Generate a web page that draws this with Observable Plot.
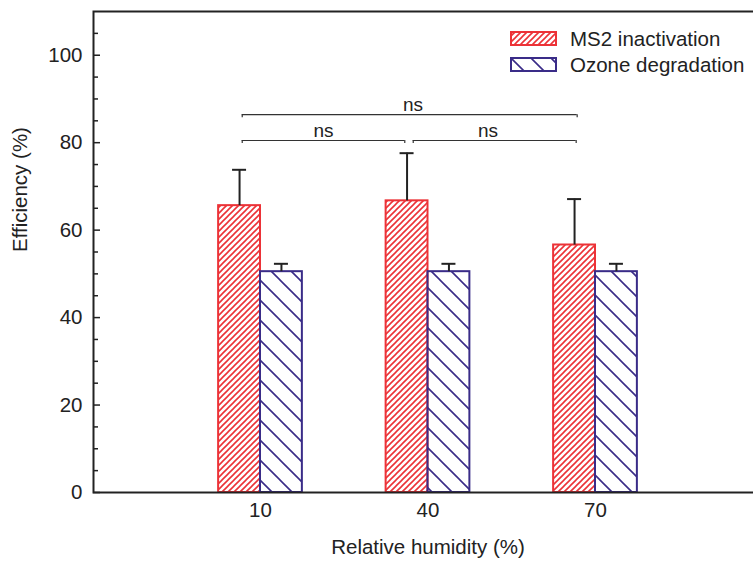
<!DOCTYPE html>
<html><head><meta charset="utf-8">
<script src="https://cdn.jsdelivr.net/npm/d3@7"></script>
<script src="https://cdn.jsdelivr.net/npm/@observablehq/plot@0.6"></script>
<style>
html,body{margin:0;padding:0;background:#fff;overflow:hidden}
#wrap{position:relative;width:753px;height:569px;font-family:"Liberation Sans",Arial,sans-serif}
.legend{position:absolute;left:510px;top:25.5px;font-size:20.5px;color:#222;line-height:26px}
.legend .row{display:flex;align-items:center;height:26px;white-space:nowrap}
.legend svg{margin-right:13px;display:block}
</style></head><body>
<svg width="0" height="0" style="position:absolute">
  <defs>
    <pattern id="hatch-red" patternUnits="userSpaceOnUse" width="6" height="6">
      <path d="M-1,1 L1,-1 M0,6 L6,0 M5,7 L7,5" stroke="#ec3237" stroke-width="1.6"/>
    </pattern>
    <pattern id="hatch-blue" patternUnits="userSpaceOnUse" width="20" height="20">
      <path d="M-2,18 L2,22 M0,0 L20,20 M18,-2 L22,2" stroke="#3a2c88" stroke-width="1.6"/>
    </pattern>
  </defs>
</svg>
<div id="wrap"></div>
<script>
// ---- data ----
const humidity = ["10", "40", "70"];
const ms2Efficiency = [65.6, 66.7, 56.6];
const ms2Error = [8.2, 10.9, 10.5];
const ozoneEfficiency = [50.5, 50.5, 50.5];
const ozoneError = [1.8, 1.8, 1.8];
const seriesNames = ["MS2 inactivation", "Ozone degradation"];
const yTicks = [0, 20, 40, 60, 80, 100];
const yMinorTicks = [5, 10, 15, 25, 30, 35, 45, 50, 55, 65, 70, 75, 85, 90, 95, 105].filter(v => v % 20 !== 0);
const bracketFrom = ["10", "40", "10"];
const bracketTo = ["40", "70", "70"];
const bracketLevel = [80.5, 80.5, 86.4];
const bracketLabel = ["ns", "ns", "ns"];
const xTitle = "Relative humidity (%)";
const yTitle = "Efficiency (%)";

// ---- styles ----
const RED = "#ec3237", BLUE = "#3a2c88", INK = "#222";
const FS = 20.5;
const bw = 83.75, half = bw / 2, q = bw / 4;

const rows = humidity.map((h, i) => ({
  rh: h, ms2: ms2Efficiency[i], ms2Err: ms2Error[i], oz: ozoneEfficiency[i], ozErr: ozoneError[i]
}));

function bracket(i, L, R, labelBand, labelDx) {
  const b = [{from: bracketFrom[i], to: bracketTo[i], y: bracketLevel[i], label: bracketLabel[i], lb: labelBand}];
  const st = {stroke: "#333", strokeWidth: 1.2};
  return [
    Plot.ruleY(b, {x1: "from", x2: "to", y: "y", insetLeft: L, insetRight: R, ...st}),
    Plot.ruleX(b, {x: "from", y1: "y", y2: d => d.y - 0.7, dx: L - half, ...st}),
    Plot.ruleX(b, {x: "to", y1: "y", y2: d => d.y - 0.7, dx: half - R, ...st}),
    Plot.text(b, {x: "lb", y: "y", text: "label", dx: labelDx, dy: -10, fontSize: 19, fill: INK})
  ];
}

const chart = Plot.plot({
  width: 753, height: 569,
  marginLeft: 93, marginRight: 0, marginTop: 11, marginBottom: 77,
  style: {fontFamily: "'Liberation Sans', Arial, sans-serif", fontSize: FS + "px", color: INK, background: "#fff", overflow: "visible"},
  x: {type: "band", domain: humidity, paddingInner: 0.5, paddingOuter: 0.747, insetRight: -9, round: false, axis: null},
  y: {domain: [0, 110], axis: null},
  marks: [
    Plot.barY(rows, {x: "rh", y: "ms2", fill: "url(#hatch-red)", stroke: RED, strokeWidth: 2, insetRight: half}),
    Plot.barY(rows, {x: "rh", y: "oz", fill: "url(#hatch-blue)", stroke: BLUE, strokeWidth: 2, insetLeft: half}),
    Plot.ruleX(rows, {x: "rh", y1: "ms2", y2: d => d.ms2 + d.ms2Err, dx: -q, stroke: INK, strokeWidth: 2}),
    Plot.tickY(rows, {x: "rh", y: d => d.ms2 + d.ms2Err, insetLeft: q - 7, insetRight: bw - q - 7, stroke: INK, strokeWidth: 2}),
    Plot.ruleX(rows, {x: "rh", y1: "oz", y2: d => d.oz + d.ozErr, dx: q, stroke: INK, strokeWidth: 2}),
    Plot.tickY(rows, {x: "rh", y: d => d.oz + d.ozErr, insetLeft: bw - q - 7, insetRight: q - 7, stroke: INK, strokeWidth: 2}),
    ...bracket(0, 23.6, 65.1, "10", 63),
    ...bracket(1, 27.1, 61.2, "40", 60),
    ...bracket(2, 23.6, 60.2, "40", -15),
    // y axis ticks (inward) and labels
    Plot.ruleY(yTicks, {y: d => d, insetRight: 660 - 7, stroke: INK, strokeWidth: 1.5}),
    Plot.ruleY(yMinorTicks, {y: d => d, insetRight: 660 - 5, stroke: INK, strokeWidth: 1.5}),
    Plot.text(yTicks, {y: d => d, text: d => String(d), frameAnchor: "left", textAnchor: "end", dx: -11, fontSize: FS, fill: INK}),
    // x tick labels
    Plot.text(humidity, {x: d => d, text: d => d, frameAnchor: "bottom", dy: 24, fontSize: FS, fill: INK}),
    // titles
    Plot.text([xTitle], {frameAnchor: "bottom", dx: 4.5, dy: 61, fontSize: FS, fill: INK}),
    Plot.text([yTitle], {frameAnchor: "left", rotate: -90, dx: -73, fontSize: FS, fill: INK}),
    Plot.frame({stroke: INK, strokeWidth: 2, insetRight: -5})
  ]
});
const wrap = document.getElementById("wrap");
wrap.appendChild(chart);

// in-plot legend
const fills = ["url(#hatch-red)", "url(#hatch-blue)"];
const strokes = [RED, BLUE];
const leg = document.createElement("div");
leg.className = "legend";
leg.innerHTML = seriesNames.map((n, i) =>
  `<div class="row"><svg width="47" height="15"><rect x="1" y="1" width="45" height="13" fill="${fills[i]}" stroke="${strokes[i]}" stroke-width="2"/></svg><span>${n}</span></div>`
).join("");
wrap.appendChild(leg);
</script>
</body></html>
